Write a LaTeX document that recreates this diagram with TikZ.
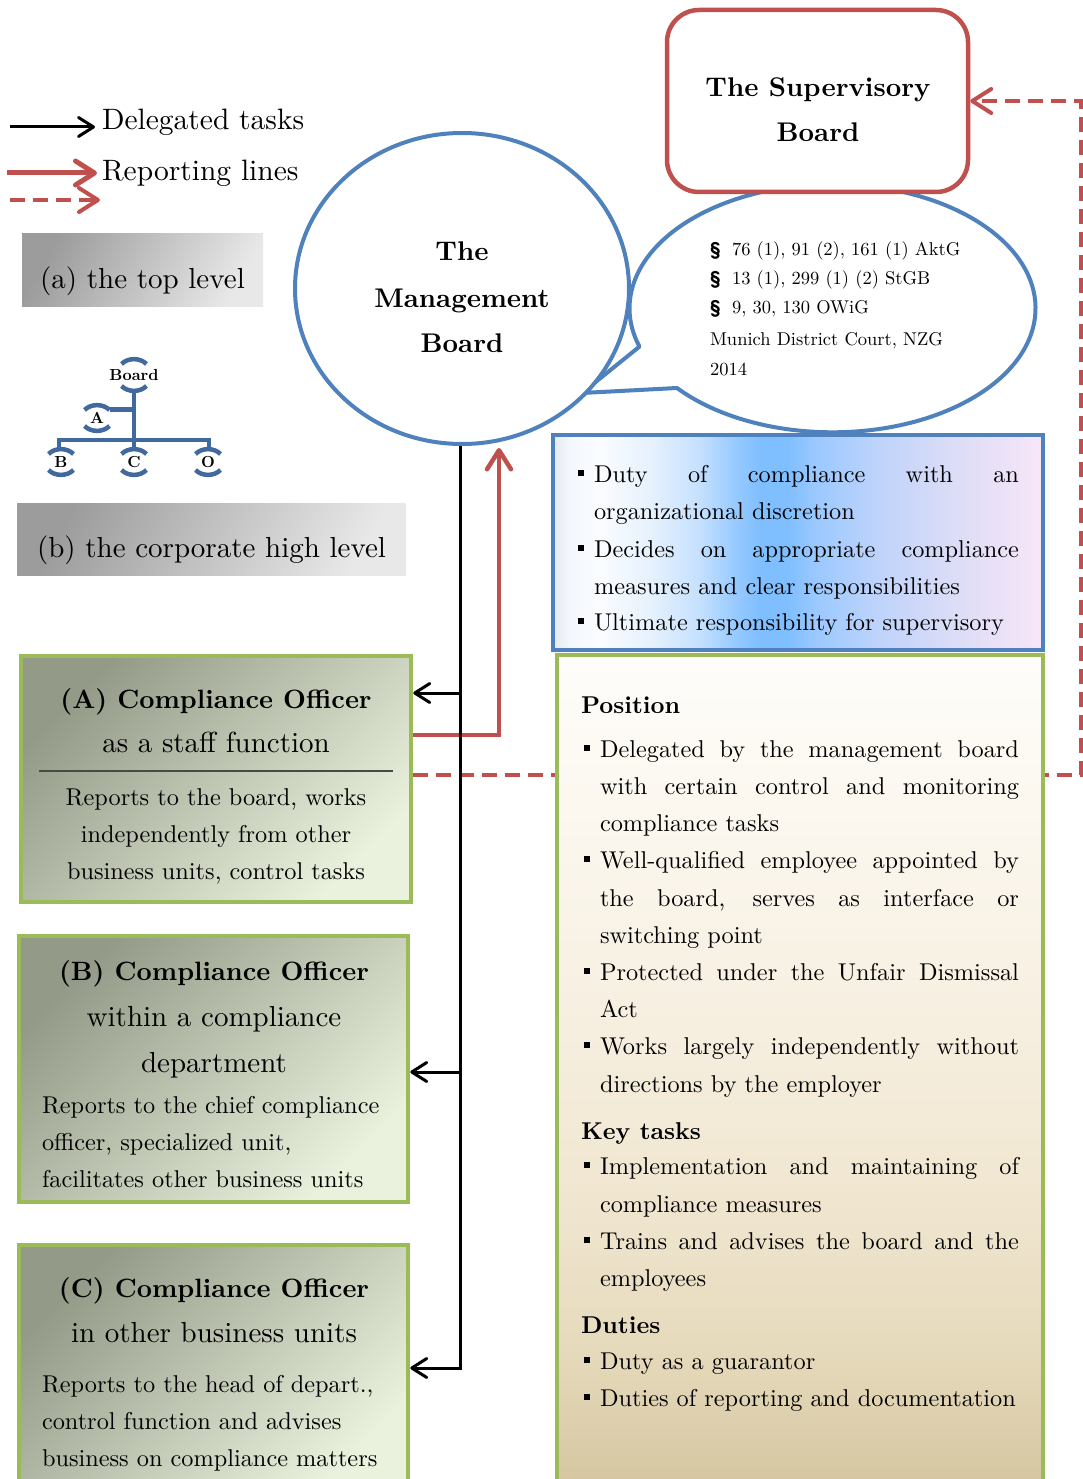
\documentclass[tikz,border=0pt]{standalone}
\usepackage{fontspec}
\setmainfont{lmroman10-regular.otf}[BoldFont=lmroman10-bold.otf, ItalicFont=lmroman10-italic.otf, BoldItalicFont=lmroman10-bolditalic.otf]
\setsansfont{lmsans10-regular.otf}[BoldFont=lmsans10-bold.otf]
\usetikzlibrary{arrows.meta,shapes.geometric}
\definecolor{mblue}{HTML}{4F81BD}
\definecolor{mred}{HTML}{C0504D}
\definecolor{mgreen}{HTML}{9BBB59}
\definecolor{oblue}{HTML}{41699F}
\definecolor{gtl}{HTML}{939A87}
\definecolor{gbr}{HTML}{EAF1DD}
\definecolor{ytl}{HTML}{9C9C9C}
\definecolor{ybr}{HTML}{E8E8E8}
\definecolor{rulec}{HTML}{4A4A44}
\definecolor{bs1}{HTML}{E4EAF2}
\definecolor{bs2}{HTML}{F4F7FC}
\definecolor{bs3}{HTML}{FAFCFF}
\definecolor{bs4}{HTML}{E6F1FD}
\definecolor{bs5}{HTML}{C4E0FE}
\definecolor{bs6}{HTML}{98CBFF}
\definecolor{bs7}{HTML}{80BFFF}
\definecolor{bs8}{HTML}{9CC9FF}
\definecolor{bs9}{HTML}{BED3FB}
\definecolor{bs10}{HTML}{DADCF7}
\definecolor{bs11}{HTML}{F8E6F8}
\definecolor{ts1}{HTML}{D3C39E}
\definecolor{ts2}{HTML}{D6C7A2}
\definecolor{ts3}{HTML}{E6DABC}
\definecolor{ts4}{HTML}{F0E6D0}
\definecolor{ts5}{HTML}{F7F0E2}
\definecolor{ts6}{HTML}{FCF8F0}
\definecolor{ts7}{HTML}{FEFDFA}
\pgfdeclarehorizontalshading{bluesh}{100bp}{color(0bp)=(bs1); color(25bp)=(bs1); color(26.7bp)=(bs2); color(29.8bp)=(bs3); color(35bp)=(bs4); color(40bp)=(bs5); color(43.5bp)=(bs6); color(46bp)=(bs7); color(49bp)=(bs7); color(52bp)=(bs8); color(58bp)=(bs9); color(65.3bp)=(bs10); color(75bp)=(bs11); color(100bp)=(bs11)}
\pgfdeclareverticalshading{tansh}{100bp}{color(0bp)=(ts1); color(25bp)=(ts1); color(25.95bp)=(ts2); color(33.6bp)=(ts3); color(42.6bp)=(ts4); color(54.5bp)=(ts5); color(66.4bp)=(ts6); color(75bp)=(ts7); color(100bp)=(ts7)}

\newcommand\bodyf{\fontsize{24.3}{29}\selectfont}
\newcommand\legf{\fontsize{29.5}{35}\selectfont}
\newcommand\grayf{\fontsize{29}{35}\selectfont}
\newcommand\boardf{\fontsize{27}{32}\selectfont\bfseries}
\newcommand\titlef{\fontsize{26.5}{32}\selectfont\bfseries}
\newcommand\subf{\fontsize{29}{35}\selectfont}
\newcommand\bubf{\fontsize{18.5}{22}\selectfont}
\newcommand\orgf{\fontsize{16}{19}\selectfont\bfseries}
\newcommand\jst[2]{\makebox[#1][s]{#2}}
\newcommand\bsq{\makebox[16.5pt][l]{\rule[6pt]{6.5pt}{6.5pt}}}
\newcommand\ltxt[5][\bodyf]{\node[tl,font=#1] (#2) at (#3,-#4) {#5};}
\newcommand\ctxt[5][\bodyf]{\node[tc,font=#1] (#2) at (#3,-#4) {#5};}

\tikzset{
  tl/.style={anchor=base west, inner sep=0pt, outer sep=0pt},
  tc/.style={anchor=base, inner sep=0pt, outer sep=0pt},
  redarr/.style={draw=mred, line width=4.5pt, -{Straight Barb[length=19pt,width=24pt,round]}},
  reddash/.style={draw=mred, line width=4pt, dash pattern=on 15pt off 8pt, -{Straight Barb[length=19pt,width=24pt,round]}},
  blkarr/.style={draw=black, line width=3pt, -{Straight Barb[length=15pt,width=19pt,round]}},
  greenbox/.style={draw=mgreen, line width=4.5pt, top color=gtl, bottom color=gbr, shading angle=45, inner sep=0pt},
  graybox/.style={top color=ytl, bottom color=ybr, shading angle=60, inner sep=0pt},
  orgline/.style={draw=oblue, line width=4.5pt},
  orglab/.style={font=\orgf, inner sep=0pt}
}

\begin{document}
\begin{tikzpicture}[x=1pt,y=1pt]
\useasboundingbox (0,0) rectangle (1083,-1479);
\fill[white] (0,0) rectangle (1083,-1479);

% ---------- legend ----------
\coordinate (l1s) at (10,-127);  \coordinate (l1e) at (95,-127);
\coordinate (l2s) at (7,-173);   \coordinate (l2e) at (97,-173);
\coordinate (l3s) at (10,-200);  \coordinate (l3e) at (100,-200);
\draw[blkarr] (l1s) -- (l1e);
\draw[redarr, line width=5pt] (l2s) -- (l2e);
\draw[reddash] (l3s) -- (l3e);
\ltxt[\legf]{lg1}{102}{130}{Delegated tasks}
\ltxt[\legf]{lg2}{102}{181}{Reporting lines}

% ---------- gray level boxes ----------
\node[graybox, minimum width=241pt, minimum height=72pt] (ga) at (142.5,-270) {};
\node[graybox, minimum width=389pt, minimum height=72pt] (gb) at (211.5,-539) {};
\ctxt[\grayf]{gat}{142.5}{288}{(a) the top level}
\ctxt[\grayf]{gbt}{211.5}{557}{(b) the corporate high level}

% ---------- org chart icon ----------
\draw[orgline] (134,-391) -- (134,-447);
\draw[orgline] (59,-448) -- (59,-440) -- (209,-440) -- (209,-448);
\draw[orgline] (109.5,-409.5) -- (134,-409.5);
\foreach \nm/\cx/\cy/\h in {Board/134/375/17, A/97/418/14, B/61/462/14, C/134/462/14, O/208/462/14}{
  \node[orglab] (org\nm) at (\cx,-\cy) {\nm};
  \draw[orgline] (\cx-12.5,-\cy+\h-6) .. controls (\cx-6,-\cy+\h+0.5) and (\cx+6,-\cy+\h+0.5) .. (\cx+12.5,-\cy+\h-6);
  \draw[orgline] (\cx-12.5,-\cy-\h+6) .. controls (\cx-6,-\cy-\h-0.5) and (\cx+6,-\cy-\h-0.5) .. (\cx+12.5,-\cy-\h+6);
}

% ---------- speech bubble ----------
\draw[draw=mblue, line width=4pt, fill=white, line join=round]
  (677,-388) arc[start angle=220, end angle=558, x radius=203, y radius=124] -- (582,-393) -- cycle;
\ltxt[\bubf]{s1}{710}{255}{\makebox[22pt][l]{\sffamily\bfseries\S}76 (1), 91 (2), 161 (1) AktG}
\ltxt[\bubf]{s2}{710}{284}{\makebox[22pt][l]{\sffamily\bfseries\S}13 (1), 299 (1) (2) StGB}
\ltxt[\bubf]{s3}{710}{313}{\makebox[22pt][l]{\sffamily\bfseries\S}9, 30, 130 OWiG}
\ltxt[\bubf]{s4}{710}{345}{Munich District Court, NZG}
\ltxt[\bubf]{s5}{710}{375}{2014}

% ---------- management board ----------
\node[ellipse, draw=mblue, line width=4pt, fill=white, minimum width=334pt, minimum height=311pt, inner sep=0pt] (mb) at (462,-288.5) {};
\ctxt[\boardf]{mb1}{462}{261}{The}
\ctxt[\boardf]{mb2}{462}{307}{Management}
\ctxt[\boardf]{mb3}{462}{352}{Board}

% ---------- supervisory board ----------
\node[draw=mred, line width=4.5pt, rounded corners=32pt, fill=white, minimum width=301pt, minimum height=182pt, inner sep=0pt] (sb) at (817.5,-101) {};
\ctxt[\boardf]{sb1}{818}{97}{The Supervisory}
\ctxt[\boardf]{sb2}{818}{142}{Board}

% ---------- left boxes ----------
\node[greenbox, minimum width=390pt, minimum height=246pt] (A) at (216,-779) {};
\node[greenbox, minimum width=389pt, minimum height=266pt] (B) at (213.5,-1069) {};
\node[greenbox, minimum width=389pt, minimum height=250pt] (C) at (213.5,-1370) {};

% ---------- dashed reporting line to supervisory board ----------
\coordinate (dr) at (1081,-775);
\draw[reddash] (dr -| A.east) -- (dr) -- (dr |- sb.east) -- (sb.east);

% ---------- right boxes ----------
\node[shade, shading=bluesh, draw=mblue, line width=4pt, minimum width=490pt, minimum height=215pt, inner sep=0pt] (bx) at (798,-542.5) {};
\node[shade, shading=tansh, draw=mgreen, line width=4.5pt, minimum width=486pt, minimum height=840pt, inner sep=0pt] (rb) at (800,-1075) {};

% ---------- connectors ----------
\coordinate (rs) at (499,-735);
\coordinate (rtip) at (499,-448);
\draw[redarr, line join=miter] (rs -| A.east) -- (rs) -- (rtip);
\coordinate (tb) at (460,-1368);
\coordinate (ta) at (460,-693);
\coordinate (tm) at (460,-1072);
\draw[blkarr] (mb.south -| tb) -- (tb) -- (tb -| C.east);
\draw[blkarr] (ta) -- (ta -| A.east);
\draw[blkarr] (tm) -- (tm -| B.east);

% ---------- blue box text ----------
\ltxt{u1}{577.5}{482}{\bsq\jst{425pt}{Duty of compliance with an}}
\ltxt{u2}{594}{519}{organizational discretion}
\ltxt{u3}{577.5}{557}{\bsq\jst{425pt}{Decides on appropriate compliance}}
\ltxt{u4}{594}{594}{measures and clear responsibilities}
\ltxt{u5}{577.5}{630}{\bsq Ultimate responsibility for supervisory}

% ---------- right box text ----------
\ltxt[\bodyf\bfseries]{p0}{581}{713}{Position}
\ltxt{p1}{583.5}{757}{\bsq\jst{419pt}{Delegated by the management board}}
\ltxt{p2}{600}{794}{\jst{419pt}{with certain control and monitoring}}
\ltxt{p3}{600}{831}{compliance tasks}
\ltxt{p4}{583.5}{868}{\bsq\jst{419pt}{Well-qualified employee appointed by}}
\ltxt{p5}{600}{906}{\jst{419pt}{the board, serves as interface or}}
\ltxt{p6}{600}{943}{switching point}
\ltxt{p7}{583.5}{980}{\bsq\jst{419pt}{Protected under the Unfair Dismissal}}
\ltxt{p8}{600}{1017}{Act}
\ltxt{p9}{583.5}{1054}{\bsq\jst{419pt}{Works largely independently without}}
\ltxt{p10}{600}{1092}{directions by the employer}
\ltxt[\bodyf\bfseries]{k0}{581}{1139}{Key tasks}
\ltxt{k1}{583.5}{1174}{\bsq\jst{419pt}{Implementation and maintaining of}}
\ltxt{k2}{600}{1212}{compliance measures}
\ltxt{k3}{583.5}{1249}{\bsq\jst{419pt}{Trains and advises the board and the}}
\ltxt{k4}{600}{1286}{employees}
\ltxt[\bodyf\bfseries]{d0}{581}{1333}{Duties}
\ltxt{d1}{583.5}{1369}{\bsq Duty as a guarantor}
\ltxt{d2}{583.5}{1406}{\bsq Duties of reporting and documentation}

% ---------- left box text ----------
\ctxt[\titlef]{a1}{216}{708}{(A) Compliance Officer}
\ctxt[\subf]{a2}{216}{752}{as a staff function}
\draw[rulec, line width=1.5pt] (39,-771) -- (393,-771);
\ctxt{a3}{216}{805}{Reports to the board, works}
\ctxt{a4}{216}{842}{independently from other}
\ctxt{a5}{216}{879}{business units, control tasks}

\ctxt[\titlef]{b1}{214}{980}{(B) Compliance Officer}
\ctxt[\subf]{b2}{214}{1026}{within a compliance}
\ctxt[\subf]{b3}{214}{1072}{department}
\ltxt{b4}{42}{1113}{Reports to the chief compliance}
\ltxt{b5}{42}{1150}{officer, specialized unit,}
\ltxt{b6}{42}{1187}{facilitates other business units}

\ctxt[\titlef]{c1}{214}{1297}{(C) Compliance Officer}
\ctxt[\subf]{c2}{214}{1342}{in other business units}
\ltxt{c3}{42}{1392}{Reports to the head of depart.,}
\ltxt{c4}{42}{1429}{control function and advises}
\ltxt{c5}{42}{1466}{business on compliance matters}
\end{tikzpicture}
\end{document}
